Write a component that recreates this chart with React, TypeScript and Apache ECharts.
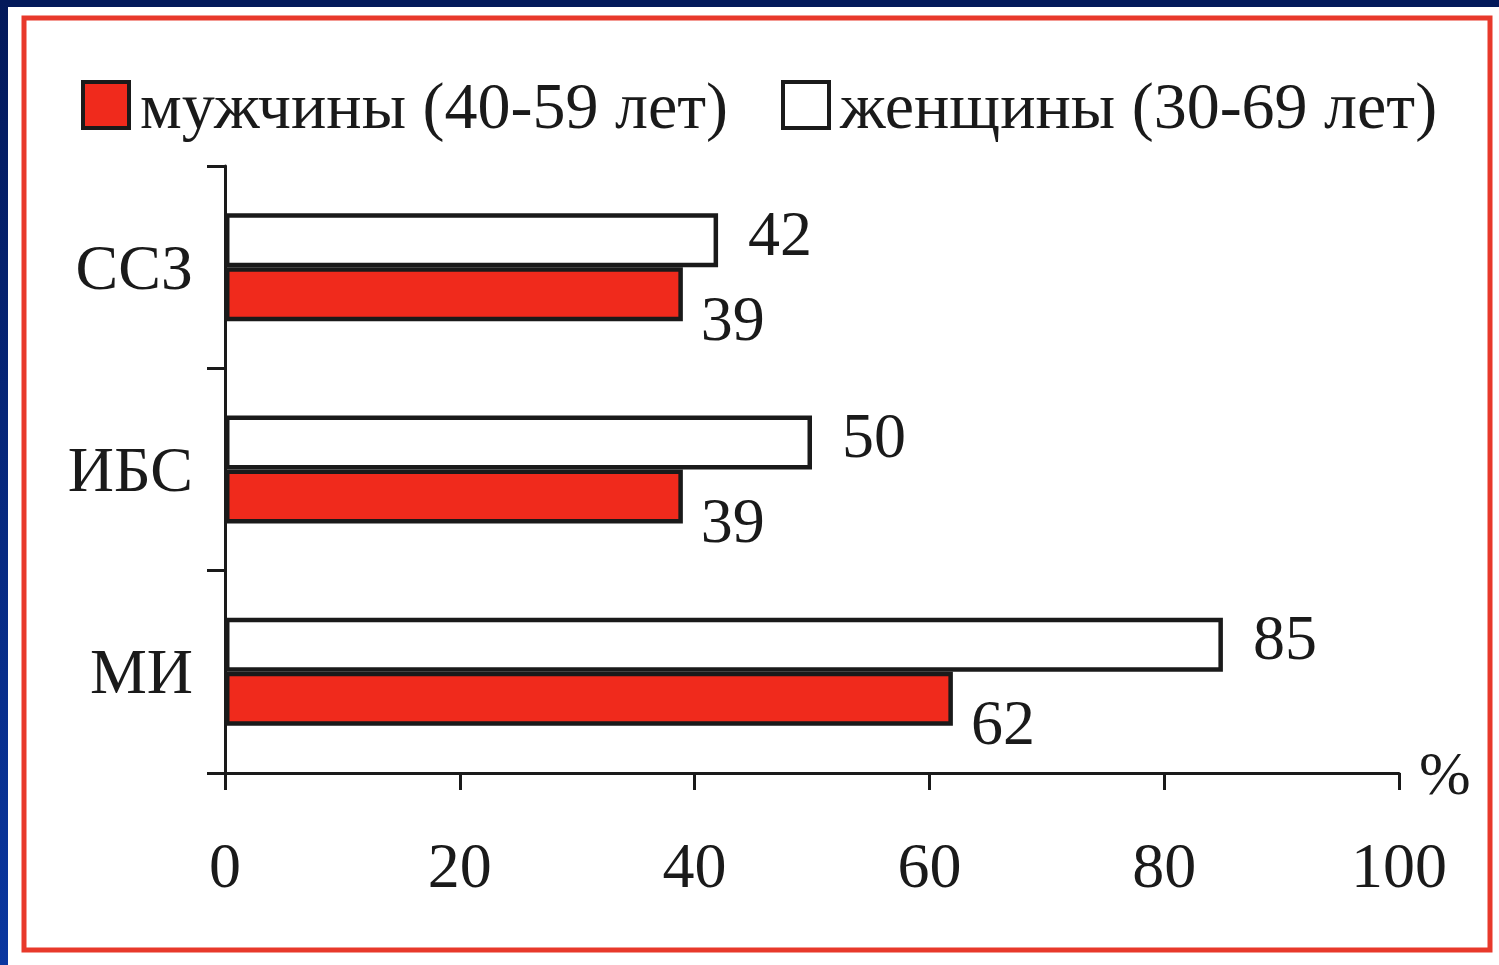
import React, { useEffect, useRef } from "react";
import * as echarts from "echarts";

// Categories, bottom to top on the value chart
const categories = ["МИ", "ИБС", "ССЗ"];
const seriesNames = ["мужчины (40-59 лет)", "женщины (30-69 лет)"];
const menValues = [62, 39, 39];
const womenValues = [85, 50, 42];
const xTicks = [0, 20, 40, 60, 80, 100];

const FONT = '"Liberation Serif", "Times New Roman", serif';
const INK = "#1a1a1a";
const RED = "#f02a1c";
const FRAME_RED = "#e8392b";
const NAVY = "#03195a";

export default function App() {
  const ref = useRef<HTMLDivElement>(null);

  useEffect(() => {
    if (!ref.current) return;
    const chart = echarts.init(ref.current, undefined, { renderer: "svg" });

    const legendBase = {
      top: 67,
      itemWidth: 46,
      itemHeight: 46,
      icon: "rect",
      itemStyle: { borderColor: INK, borderWidth: 4 },
      textStyle: {
        fontFamily: FONT,
        fontSize: 66,
        color: INK,
        padding: [0, 0, 0, 6],
      },
      selectedMode: false,
    };

    const labelBase = {
      show: true,
      position: "right",
      fontFamily: FONT,
      fontSize: 64,
      color: INK,
    };

    chart.setOption({
      animation: false,
      backgroundColor: "#ffffff",
      legend: [
        { ...legendBase, left: 76, data: [seriesNames[0]] },
        { ...legendBase, left: 776, data: [seriesNames[1]] },
      ],
      grid: { left: 225, right: 100, top: 166, bottom: 192 },
      xAxis: {
        type: "value",
        min: xTicks[0],
        max: xTicks[xTicks.length - 1],
        interval: 20,
        name: "%",
        nameLocation: "end",
        nameGap: 20,
        nameTextStyle: {
          fontFamily: FONT,
          fontSize: 62,
          color: INK,
          verticalAlign: "middle",
          padding: [34, 0, 0, 0],
        },
        axisLine: { show: true, lineStyle: { color: INK, width: 3 } },
        axisTick: { show: true, length: 17, lineStyle: { color: INK, width: 3 } },
        splitLine: { show: false },
        axisLabel: {
          fontFamily: FONT,
          fontSize: 64,
          color: INK,
          margin: 60,
          formatter: (v: number) => String(v),
        },
      },
      yAxis: {
        type: "category",
        data: categories,
        axisLine: { show: true, lineStyle: { color: INK, width: 3 } },
        axisTick: { show: true, length: 18, lineStyle: { color: INK, width: 3 } },
        axisLabel: {
          fontFamily: FONT,
          fontSize: 64,
          color: INK,
          margin: 32,
        },
      },
      // women first so their bars sit above the men's within each category
      series: [
        {
          name: seriesNames[1],
          type: "bar",
          data: womenValues,
          barWidth: 54,
          barGap: "0%",
          itemStyle: { color: "#ffffff", borderColor: INK, borderWidth: 4.5 },
          label: { ...labelBase, distance: 30, offset: [0, -7] },
        },
        {
          name: seriesNames[0],
          type: "bar",
          data: menValues,
          barWidth: 54,
          barGap: "0%",
          itemStyle: { color: RED, borderColor: INK, borderWidth: 4.5 },
          label: { ...labelBase, distance: 18, offset: [0, 24] },
        },
      ],
      graphic: [
        {
          type: "rect",
          left: 0,
          top: 0,
          shape: { width: 1499, height: 7 },
          style: { fill: NAVY },
          silent: true,
        },
        {
          type: "rect",
          left: 0,
          top: 0,
          shape: { width: 8, height: 965 },
          style: {
            fill: new echarts.graphic.LinearGradient(0, 0, 0, 1, [
              { offset: 0, color: "#03195a" },
              { offset: 1, color: "#0a37a0" },
            ]),
          },
          silent: true,
        },
        {
          type: "rect",
          shape: { x: 24, y: 18, width: 1466, height: 932 },
          style: { fill: "none", stroke: FRAME_RED, lineWidth: 5 },
          silent: true,
        },
      ],
    });

    return () => chart.dispose();
  }, []);

  return (
    <div
      ref={ref}
      style={{ position: "fixed", left: 0, top: 0, width: 1499, height: 965 }}
    />
  );
}
